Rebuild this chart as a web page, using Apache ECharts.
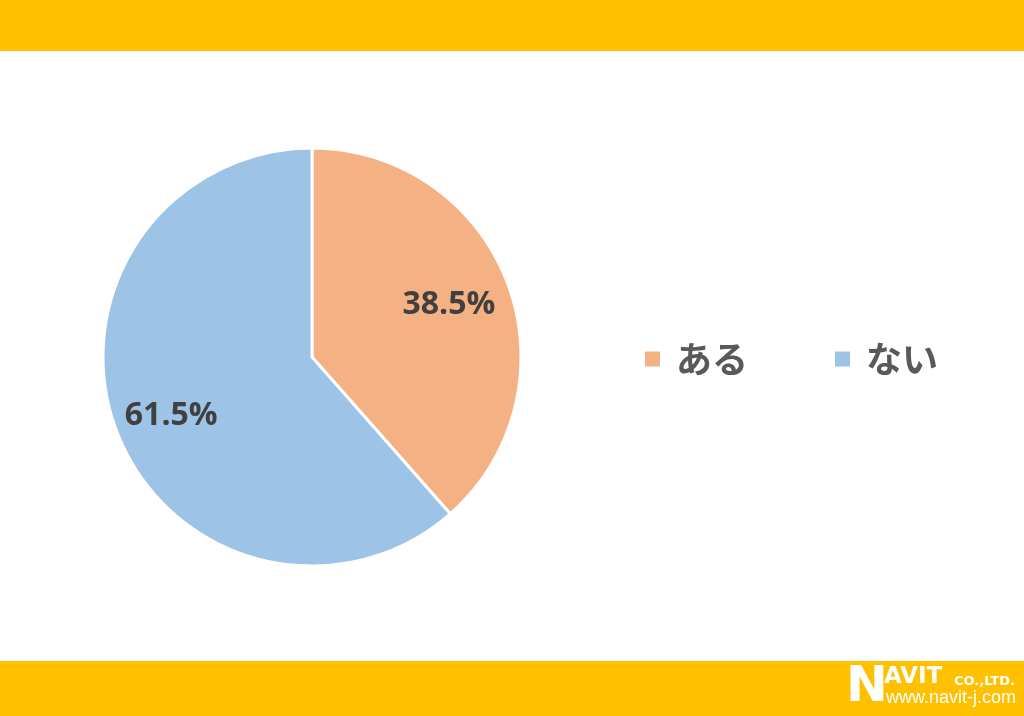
<!DOCTYPE html>
<html><head><meta charset="utf-8">
<script src="https://cdn.jsdelivr.net/npm/echarts@6/dist/echarts.min.js"></script>
<style>html,body{margin:0;padding:0;background:#fff}#c{width:1024px;height:716px}</style>
</head><body><div id="c"></div>
<script>
const categories = ['ある', 'ない'];
const values = [38.5, 61.5];
const colors = ['#F4B183', '#9DC3E6'];

const chart = echarts.init(document.getElementById('c'));
const CX = 312, CY = 357, R = 209;
const total = values.reduce((a, b) => a + b, 0);
function midAngle(i) {
  let s = 0;
  for (let k = 0; k < i; k++) s += values[k];
  return (s + values[i] / 2) / total * 2 * Math.PI;
}
chart.setOption({
  backgroundColor: '#ffffff',
  graphic: [
    { type: 'rect', left: 0, top: 0, shape: { width: 1024, height: 51 }, style: { fill: '#FFC000' }, z: -1 },
    { type: 'rect', left: 0, top: 661, shape: { width: 1024, height: 55 }, style: { fill: '#FFC000' }, z: -1 },
    { type: 'text', left: 846, top: 663, style: { text: 'N', fill: '#fff', font: 'bold 50px "DejaVu Sans"' } },
    { type: 'text', left: 884, top: 666, style: { text: 'AVIT', fill: '#fff', font: 'bold 23px "DejaVu Sans"' } },
    { type: 'text', left: 954, top: 675, style: { text: 'CO.,LTD.', fill: '#fff', font: 'bold 13px "DejaVu Sans"' } },
    { type: 'text', left: 886, top: 689, style: { text: 'www.navit-j.com', fill: '#fff', font: '18px "Liberation Sans"' } }
  ],
  legend: {
    data: categories,
    left: 638,
    top: 336,
    icon: 'rect',
    itemWidth: 17,
    itemHeight: 17,
    itemGap: 85,
    textStyle: { fontSize: 36, fontWeight: 'bold', color: '#595959', fontFamily: '"Noto Sans CJK JP"', padding: [0, 0, 0, 10] }
  },
  series: [{
    type: 'pie',
    center: [CX, CY],
    radius: [0, R],
    startAngle: 90,
    clockwise: true,
    silent: true,
    data: categories.map((c, i) => ({ name: c, value: values[i], itemStyle: { color: colors[i] } })),
    itemStyle: { borderColor: '#fff', borderWidth: 3 },
    label: {
      show: true,
      position: 'inside',
      formatter: p => p.value.toFixed(1) + '%',
      fontSize: 32,
      fontWeight: 'bold',
      color: '#404040',
      fontFamily: '"Open Sans", "DejaVu Sans"'
    },
    labelLine: { show: false },
    labelLayout: function (p) {
      const a = midAngle(p.dataIndex);
      const f = p.dataIndex === 0 ? 0.7 : 0.72;
      return { x: CX + f * R * Math.sin(a), y: CY - f * R * Math.cos(a) + (p.dataIndex === 0 ? 0 : 6), align: 'center', verticalAlign: 'middle' };
    }
  }]
});
</script></body></html>
